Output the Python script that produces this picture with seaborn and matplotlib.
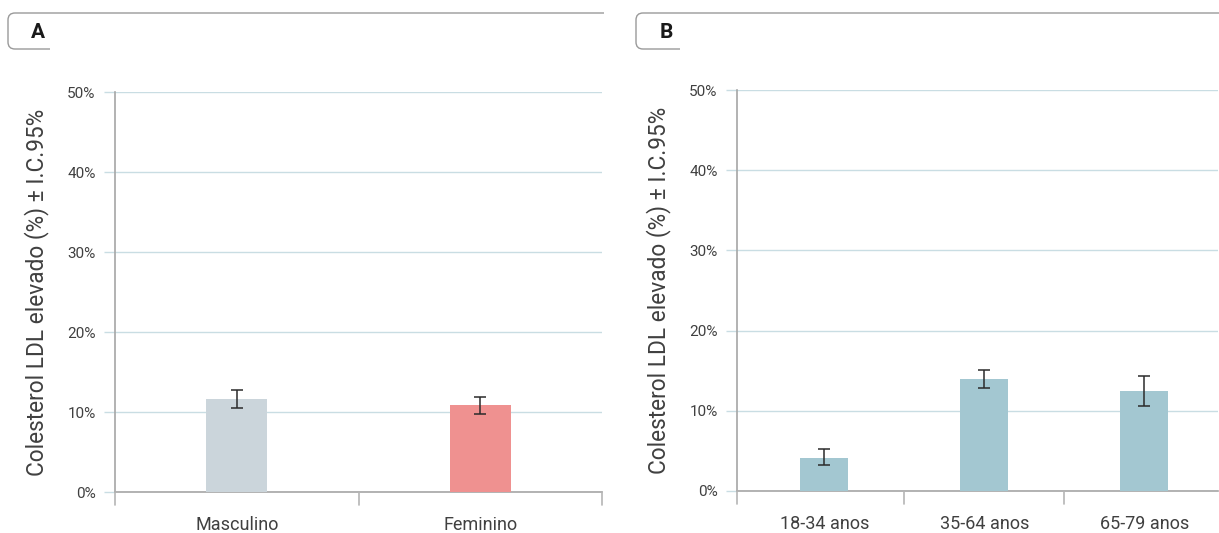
import matplotlib
matplotlib.use("Agg")
import matplotlib.pyplot as plt
from matplotlib.patches import PathPatch
from matplotlib.path import Path
from matplotlib.transforms import IdentityTransform
import seaborn as sns
import pandas as pd

# Prevalence of elevated LDL cholesterol (%) with 95% confidence intervals
sex_labels = ["Masculino", "Feminino"]
sex_values = [11.6, 10.9]
sex_ci_low = [10.5, 9.8]
sex_ci_high = [12.7, 11.9]
sex_colors = ["#cbd5db", "#ef9190"]

age_labels = ["18-34 anos", "35-64 anos", "65-79 anos"]
age_values = [4.1, 14.0, 12.5]
age_ci_low = [3.2, 12.9, 10.6]
age_ci_high = [5.2, 15.1, 14.4]
age_color = "#a3c7d1"

y_ticks = [0, 10, 20, 30, 40, 50]
y_label = "Colesterol LDL elevado (%) \u00b1 I.C.95%"

sns.set_theme(style="white")
plt.rcParams["font.family"] = ["Roboto", "DejaVu Sans"]

W, H = 1219, 533
fig = plt.figure(figsize=(W / 100, H / 100), dpi=100)

axA = fig.add_axes([115 / W, 41 / H, 487 / W, 400 / H])
axB = fig.add_axes([737 / W, 42 / H, 481 / W, 401 / H])

grid_color = "#c9dde3"
spine_color = "#a6a6a6"
text_color = "#404040"


def draw_panel(ax, labels, values, lo, hi, colors, width, xlim):
    df = pd.DataFrame({"grupo": labels, "valor": values})
    sns.barplot(data=df, x="grupo", y="valor", hue="grupo", palette=colors,
                width=width, legend=False, saturation=1, linewidth=0,
                ax=ax, zorder=3)
    xs = list(range(len(labels)))
    yerr = [[v - l for v, l in zip(values, lo)], [h - v for v, h in zip(values, hi)]]
    ax.errorbar(xs, values, yerr=yerr, fmt="none", ecolor="#2b2b2b",
                elinewidth=1.1, capsize=4, capthick=1.1, zorder=4)
    ax.set_xlim(*xlim)
    ax.set_ylim(0, 50)
    ax.set_yticks(y_ticks)
    ax.set_yticklabels([f"{t}%" for t in y_ticks], fontsize=11, color=text_color)
    ax.set_xticks(xs)
    ax.set_xticklabels(labels, fontsize=13, color=text_color)
    ax.yaxis.grid(True, color=grid_color, linewidth=1.0, zorder=0)
    ax.set_axisbelow(True)
    ax.set_xlabel("")
    ax.set_ylabel(y_label, fontsize=16.3, color=text_color, labelpad=13)
    ax.tick_params(axis="y", length=8, width=1, color=grid_color, pad=6, left=True)
    ax.tick_params(axis="x", length=0, pad=17)
    for s in ["top", "right"]:
        ax.spines[s].set_visible(False)
    for s in ["left", "bottom"]:
        ax.spines[s].set_color(spine_color)
        ax.spines[s].set_linewidth(1.2)
    # short separators below the baseline between categories and at the ends
    n = len(labels)
    marks = [xlim[0]] + [i + 0.5 for i in range(n) if i + 0.5 <= xlim[1] + 1e-6]
    for b in marks:
        ax.plot([b, b], [0, -1.6], color="#b5b5b5", lw=1.2, clip_on=False, zorder=5)


draw_panel(axA, sex_labels, sex_values, sex_ci_low, sex_ci_high, sex_colors, 0.25, (-0.5, 1.5))
draw_panel(axB, age_labels, age_values, age_ci_low, age_ci_high, [age_color] * 3, 0.3, (-0.545, 2.46))


def panel_header(x0, x1, tab_w, letter):
    # rounded tab with the panel letter and a rule along the top (pixel coordinates)
    y_top = H - 13
    y_bot = H - 49
    r = 7
    verts = [
        (x0 + tab_w, y_bot),
        (x0 + r, y_bot),
        (x0, y_bot), (x0, y_bot + r),
        (x0, y_top - r),
        (x0, y_top), (x0 + r, y_top),
        (x1, y_top),
    ]
    codes = [Path.MOVETO, Path.LINETO, Path.CURVE3, Path.CURVE3, Path.LINETO,
             Path.CURVE3, Path.CURVE3, Path.LINETO]
    patch = PathPatch(Path(verts, codes), transform=IdentityTransform(),
                      fill=False, edgecolor="#9a9a9a", linewidth=1.0)
    fig.patches.append(patch)
    fig.text((x0 + 30) / W, 1 - 33 / H, letter, fontsize=15, fontweight="bold",
             color="#1a1a1a", ha="center", va="center")


panel_header(8, 604, 42, "A")
panel_header(636, W + 2, 44, "B")

fig.savefig("out.png", dpi=100, facecolor="white")
